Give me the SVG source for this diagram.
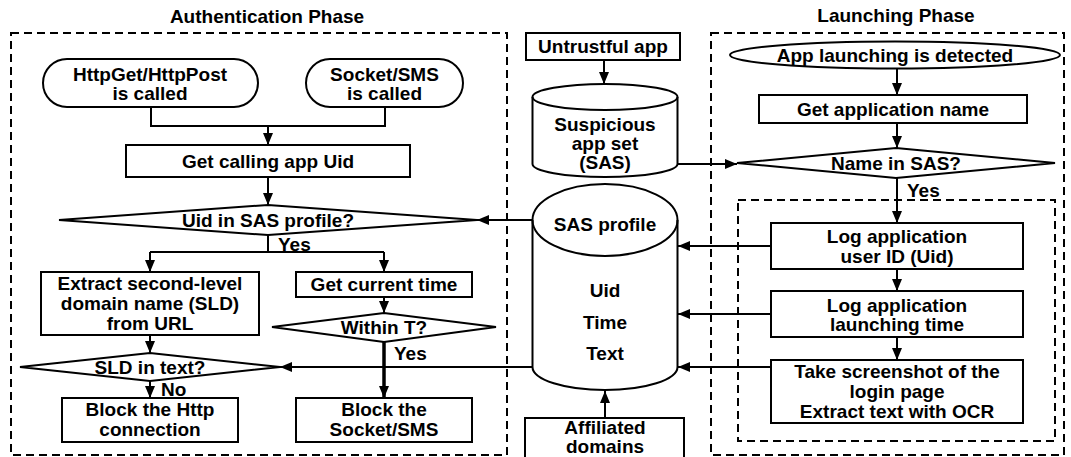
<svg xmlns="http://www.w3.org/2000/svg" width="1071" height="457" viewBox="0 0 1071 457">
<style>
text{font-family:"Liberation Sans",Arial,sans-serif;font-weight:bold;font-size:19px;fill:#000;text-anchor:middle}
.l{text-anchor:start}
.b{fill:#fff;stroke:#000;stroke-width:2}
.dash{fill:none;stroke:#000;stroke-width:2;stroke-dasharray:8 5}
.c{fill:none;stroke:#000;stroke-width:2}
.a{marker-end:url(#ah)}
.thick{stroke-width:3.5}
</style>
<defs>
<marker id="ah" markerUnits="userSpaceOnUse" markerWidth="12" markerHeight="10" refX="12" refY="5" orient="auto">
<path d="M0,0 L12,5 L0,10 z" fill="#000"/>
</marker>
</defs>
<rect width="1071" height="457" fill="#fff"/>

<g id="regions">
<text x="267" y="23">Authentication Phase</text>
<text x="896" y="22">Launching Phase</text>
<rect class="dash" x="11" y="33" width="496" height="422"/>
<rect class="dash" x="711" y="33" width="353" height="422"/>
<rect class="dash" x="738" y="200" width="317" height="241"/>
</g>

<g id="connectors">
<path class="c" d="M151,107 V126 H385 V107"/>
<path class="c a" d="M268,126 V145"/>
<path class="c a" d="M268,177 V205"/>
<path class="c a" d="M533,220 H477"/>
<path class="c" d="M268,235 V252"/>
<path class="c" d="M150,252 H384"/>
<path class="c a" d="M150,252 V272"/>
<path class="c a" d="M384,252 V272"/>
<path class="c a" d="M384,297 V313"/>
<path class="c thick a" d="M384,342 V398"/>
<path class="c a" d="M150,335 V353"/>
<path class="c a" d="M150,381 V398"/>
<path class="c a" d="M533,367 H280"/>
<path class="c a" d="M604,60 V84"/>
<path class="c a" d="M677,164 H737"/>
<path class="c a" d="M605,418 V391"/>
<path class="c a" d="M897,68 V95"/>
<path class="c a" d="M897,123 V148"/>
<path class="c a" d="M897,178 V223"/>
<path class="c a" d="M897,269 V291"/>
<path class="c a" d="M897,337 V360"/>
<path class="c a" d="M771,246 H678"/>
<path class="c a" d="M771,314 H678"/>
<path class="c a" d="M771,367 H678"/>
<text class="l" x="278" y="251">Yes</text>
<text class="l" x="394" y="360">Yes</text>
<text class="l" x="161" y="396">No</text>
<text class="l" x="907" y="197">Yes</text>
</g>

<g id="http">
<rect class="b" x="43" y="59" width="215" height="48" rx="24"/>
<text x="150" y="81">HttpGet/HttpPost</text>
<text x="150" y="100">is called</text>
</g>
<g id="socket">
<rect class="b" x="306" y="59" width="157" height="48" rx="24"/>
<text x="384.5" y="81">Socket/SMS</text>
<text x="384.5" y="100">is called</text>
</g>
<g id="getuid">
<rect class="b" x="126" y="145" width="284" height="32"/>
<text x="268" y="168">Get calling app Uid</text>
</g>
<g id="uidcheck">
<polygon class="b" points="59,220 268,205 477,220 268,235"/>
<text x="268" y="227">Uid in SAS profile?</text>
</g>
<g id="extract">
<rect class="b" x="41" y="272" width="218" height="63"/>
<text x="150" y="290">Extract second-level</text>
<text x="150" y="310">domain name (SLD)</text>
<text x="150" y="330">from URL</text>
</g>
<g id="curtime">
<rect class="b" x="296" y="272" width="176" height="25"/>
<text x="384" y="291">Get current time</text>
</g>
<g id="withint">
<polygon class="b" points="272,327 384,313 496,327 384,342"/>
<text x="384" y="334">Within T?</text>
</g>
<g id="sldcheck">
<polygon class="b" points="20,367 150,353 280,367 150,381"/>
<text x="150" y="374">SLD in text?</text>
</g>
<g id="blockhttp">
<rect class="b" x="62" y="398" width="176" height="44"/>
<text x="150" y="416">Block the Http</text>
<text x="150" y="436">connection</text>
</g>
<g id="blocksocket">
<rect class="b" x="296" y="398" width="176" height="44"/>
<text x="384" y="416">Block the</text>
<text x="384" y="436">Socket/SMS</text>
</g>

<g id="untrustful">
<rect class="b" x="526" y="33" width="154" height="27"/>
<text x="603" y="53">Untrustful app</text>
</g>
<g id="sas">
<path class="b" d="M532.5,97 A72.5,13 0 0 1 677.5,97 V164 A72.5,13 0 0 1 532.5,164 Z"/>
<path class="c" d="M532.5,97 A72.5,13 0 0 0 677.5,97"/>
<text x="605" y="131">Suspicious</text>
<text x="605" y="150">app set</text>
<text x="605" y="169">(SAS)</text>
</g>
<g id="sasprofile">
<path class="b" d="M532.5,220 A72.5,36 0 0 1 677.5,220 V367 A72.5,23 0 0 1 532.5,367 Z"/>
<path class="c" d="M532.5,220 A72.5,36 0 0 0 677.5,220"/>
<text x="605" y="231">SAS profile</text>
<text x="605" y="297">Uid</text>
<text x="605" y="329">Time</text>
<text x="605" y="360">Text</text>
</g>
<g id="affiliated">
<rect class="b" x="525" y="418" width="159" height="45"/>
<text x="605" y="434">Affiliated</text>
<text x="605" y="453">domains</text>
</g>

<g id="launchdetect">
<ellipse class="b" cx="895" cy="55" rx="165" ry="13.5"/>
<text x="895" y="62">App launching is detected</text>
</g>
<g id="getname">
<rect class="b" x="759" y="95" width="268" height="28"/>
<text x="893" y="116">Get application name</text>
</g>
<g id="namecheck">
<polygon class="b" points="737,163 896,148 1055,163 896,178"/>
<text x="896" y="170">Name in SAS?</text>
</g>
<g id="loguid">
<rect class="b" x="771" y="223" width="252" height="46"/>
<text x="897" y="243">Log application</text>
<text x="897" y="263">user ID (Uid)</text>
</g>
<g id="logtime">
<rect class="b" x="771" y="291" width="252" height="46"/>
<text x="897" y="312">Log application</text>
<text x="897" y="331">launching time</text>
</g>
<g id="screenshot">
<rect class="b" x="771" y="360" width="252" height="63"/>
<text x="897" y="378">Take screenshot of the</text>
<text x="897" y="398">login page</text>
<text x="897" y="418">Extract text with OCR</text>
</g>
</svg>
